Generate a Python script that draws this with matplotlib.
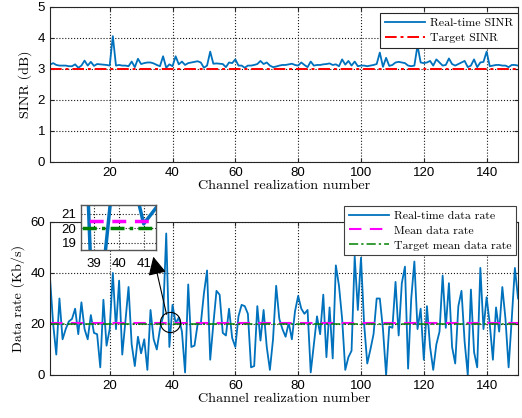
import numpy as np
import matplotlib
matplotlib.use("Agg")
import matplotlib.pyplot as plt

plt.rcParams['axes.unicode_minus'] = False

# channel realizations 1..150
channel = np.arange(1, 151)

sinr = [3.13, 3.18, 3.12, 3.1, 3.1, 3.1, 3.08, 3.08, 3.14, 3.03,
        3.1, 3.26, 3.1, 3.22, 3.09, 3.15, 3.14, 3.13, 3.12, 3.1,
        4.05, 3.1, 3.12, 3.1, 3.1, 3.08, 3.23, 3.05, 3.32, 3.15,
        3.18, 3.2, 3.2, 3.17, 3.12, 3.08, 3.4, 3.03, 3.14, 3.08,
        3.4, 3.14, 3.23, 3.12, 3.18, 3.2, 3.22, 3.24, 3.2, 3.03,
        3.1, 3.55, 3.16, 3.17, 3.16, 3.15, 3.05, 3.2, 3.18, 3.3,
        3.1, 3.1, 3.03, 3.1, 3.1, 3.12, 3.15, 3.25, 3.15, 3.2,
        3.1, 3.05, 3.07, 3.1, 3.12, 3.12, 3.14, 3.16, 3.12, 3.1,
        3.2, 3.12, 3.05, 3.23, 3.1, 3.12, 3.12, 3.14, 3.15, 3.17,
        3.12, 3.14, 3.08, 3.3, 3.13, 3.25, 3.1, 3.23, 3.08, 3.1,
        3.1, 3.08, 3.1, 3.12, 3.15, 3.52, 3.06, 3.35, 3.09, 3.12,
        3.2, 3.22, 3.2, 3.18, 3.1, 3.08, 3.1, 3.75, 3.2, 3.18,
        3.2, 3.25, 3.1, 3.3, 3.2, 3.1, 3.12, 3.33, 3.15, 3.1,
        3.15, 3.2, 3.25, 3.05, 3.1, 3.3, 3.05, 3.2, 3.22, 3.55,
        3.08, 3.1, 3.12, 3.12, 3.1, 3.1, 3.05, 3.12, 3.12, 3.1]
target_sinr = 3.0

rate = [38, 20, 8, 30, 14, 18, 21, 22, 26, 16,
        28.5, 18, 14, 23.5, 16.5, 16, 3, 29.5, 11.5, 18,
        40, 18, 37, 8, 21, 34.5, 12, 3.5, 15, 8.5,
        14, 2, 25.5, 14, 10, 18, 23, 55.5, 11, 27.5,
        20.3, 22.5, 17, 1, 35.5, 11, 11.5, 20, 20, 32,
        41, 6, 20, 33, 31.5, 16.5, 15.5, 26, 14.5, 11,
        23, 27.5, 27, 24, 3, 3.5, 27, 13.5, 25.5, 11,
        2, 14, 35, 22, 18, 15, 20.5, 14, 25, 31,
        26, 24, 25.5, 1, 12, 23, 16, 31.5, 7, 26.5,
        6.5, 43, 35, 22, 2, 7, 9.5, 46.5, 25.5, 46,
        20, 4.5, 10, 16, 30, 30, 18, 0, 19, 18.5,
        36.5, 15.5, 36, 42.5, 2.5, 30, 44.5, 18, 26, 6,
        27, 11, 2, 12, 17, 39, 18.5, 36, 11, 4.5,
        27, 33, 13, 0, 33.5, 9, 3, 42, 18, 30.5,
        20, 6, 26.5, 17, 34.5, 22, 3, 22, 42, 30]
mean_rate = 20.5
target_rate = 20.0

zoom_xlim = (38.45, 41.5)
zoom_ylim = (18.5, 21.6)
zoom_center = (39.3, 20.6)

blue = '#0072BD'
label_font = 'cmr10'
tick_font = 'Liberation Sans'


def style_axes(ax):
    ax.grid(True, linestyle=':', color='k', linewidth=0.8, alpha=0.9)
    ax.tick_params(direction='in', top=True, right=True, length=3,
                   labelsize=9.5, color='#262626')
    for lab in ax.get_xticklabels() + ax.get_yticklabels():
        lab.set_fontfamily(tick_font)
    for sp in ax.spines.values():
        sp.set_color('#262626')
        sp.set_linewidth(0.8)


fig = plt.figure(figsize=(5.22, 4.18), dpi=100)

# SINR subplot
ax1 = fig.add_axes([0.0958, 0.6132, 0.8966, 0.3708])
ax1.plot(channel, sinr, color=blue, lw=1.3, label='Real-time SINR')
ax1.plot(channel, np.full(len(channel), target_sinr), color='r', lw=1.4,
         linestyle=(0, (6, 2, 1.5, 2)), label='Target SINR')
ax1.set_xlim(1, 150)
ax1.set_ylim(0, 5)
ax1.set_xticks(np.arange(20, 141, 20))
ax1.set_yticks(np.arange(0, 6, 1))
style_axes(ax1)
ax1.set_xlabel('Channel realization number', fontfamily=label_font,
               fontsize=10.2, labelpad=1)
ax1.set_ylabel('SINR (dB)', fontfamily=label_font, fontsize=10.2, labelpad=4)
leg1 = ax1.legend(loc='upper right', bbox_to_anchor=(1.0, 0.962),
                  prop={'family': label_font, 'size': 8.6},
                  handlelength=3.4, fancybox=False, framealpha=1,
                  borderaxespad=0, borderpad=0.4, labelspacing=0.45,
                  handletextpad=0.4)
leg1.get_frame().set_edgecolor('#262626')
leg1.get_frame().set_linewidth(0.8)

# data rate subplot
ax2 = fig.add_axes([0.0958, 0.1029, 0.8966, 0.366])
ax2.plot(channel, rate, color=blue, lw=1.3, label='Real-time data rate')
ax2.plot(channel, np.full(len(channel), mean_rate), color='#FF00FF', lw=1.5,
         linestyle=(0, (6, 4)), label='Mean data rate')
ax2.plot(channel, np.full(len(channel), target_rate), color='#008000', lw=1.1,
         linestyle=(0, (6, 2, 1.5, 2)), label='Target mean data rate')
ax2.set_xlim(1, 150)
ax2.set_ylim(0, 60)
ax2.set_xticks(np.arange(20, 141, 20))
ax2.set_yticks(np.arange(0, 61, 20))
style_axes(ax2)
ax2.set_xlabel('Channel realization number', fontfamily=label_font,
               fontsize=10.2, labelpad=1)
ax2.set_ylabel('Data rate (Kb/s)', fontfamily=label_font, fontsize=10.2,
               labelpad=4)
leg2 = fig.legend(*ax2.get_legend_handles_labels(), loc='upper right',
                  bbox_to_anchor=(0.988, 0.508),
                  prop={'family': label_font, 'size': 8.5},
                  handlelength=3.4, fancybox=False, framealpha=1,
                  borderaxespad=0, borderpad=0.4, labelspacing=0.4,
                  handletextpad=0.4)
leg2.get_frame().set_edgecolor('#404040')
leg2.get_frame().set_linewidth(0.8)

# circle marking the zoomed region and the arrow to the inset
ax2.plot(*zoom_center, marker='o', markersize=14.5, markerfacecolor='none',
         markeredgecolor='k', markeredgewidth=0.8)
ax2.annotate('', xy=(0.2937, 0.3859), xycoords='figure fraction',
             xytext=(38.1, 23.8), textcoords='data',
             arrowprops=dict(arrowstyle='-|>,head_length=0.7,head_width=0.35',
                             color='k', lw=0.8,
                             mutation_scale=16, shrinkA=0, shrinkB=0))

# zoomed inset
axi = fig.add_axes([0.1546, 0.4019, 0.1443, 0.1077])
axi.plot(channel, rate, color=blue, lw=2.5)
axi.plot(channel, np.full(len(channel), mean_rate), color='#FF00FF', lw=2.5,
         linestyle=(0, (4, 2.5)))
axi.plot(channel, np.full(len(channel), target_rate), color='#008000', lw=2.5,
         linestyle=(0, (4, 1.5, 1, 1.5)))
axi.set_xlim(*zoom_xlim)
axi.set_ylim(*zoom_ylim)
axi.set_xticks([39, 40, 41])
axi.set_yticks([19, 20, 21])
style_axes(axi)
axi.tick_params(top=False, right=False, length=0)
axi.tick_params(axis='x', pad=6)
axi.tick_params(axis='y', pad=3)
for sp in axi.spines.values():
    sp.set_color('#555555')
    sp.set_linewidth(1.0)

fig.savefig('out.png', dpi=100)
